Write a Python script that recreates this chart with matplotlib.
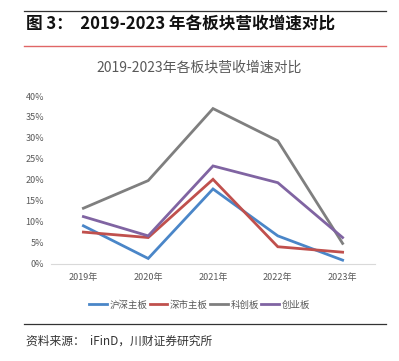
import matplotlib
matplotlib.use("Agg")
import matplotlib.pyplot as plt
from matplotlib.lines import Line2D
from matplotlib.ticker import FuncFormatter

plt.rcParams['font.family'] = ['Noto Sans CJK SC', 'DejaVu Sans']

years = ['2019年', '2020年', '2021年', '2022年', '2023年']
series_names = ['沪深主板', '深市主板', '科创板', '创业板']
hs_main = [9.0, 1.2, 17.8, 6.6, 0.8]
sz_main = [7.5, 6.2, 20.1, 4.0, 2.7]
star = [13.2, 19.8, 37.0, 29.3, 4.8]
gem = [11.2, 6.6, 23.3, 19.3, 6.2]
yticks = [0, 5, 10, 15, 20, 25, 30, 35, 40]

colors = ['#4a86c8', '#c0504d', '#7f7f7f', '#8064a2']

fig = plt.figure(figsize=(3.99, 3.61), dpi=100)
W, H = 399, 361

def fy(y):
    return 1 - y / H

# header rules and text
fig.add_artist(Line2D([24 / W, 386 / W], [fy(11), fy(11)], color='#333333', lw=0.9))
fig.text(26 / W, fy(25), '图 3：  2019-2023 年各板块营收增速对比', fontsize=12,
         fontweight='bold', color='#111111', va='center', ha='left')
fig.add_artist(Line2D([24 / W, 386 / W], [fy(46), fy(46)], color='#e06666', lw=1.0))
fig.text(0.5, fy(68), '2019-2023年各板块营收增速对比', fontsize=10, color='#595959',
         ha='center', va='center')

ax = fig.add_axes([51 / W, fy(263.5), (375 - 51) / W, (263.5 - 96) / H])
x = list(range(len(years)))
for vals, c, name in zip([hs_main, sz_main, star, gem], colors, series_names):
    ax.plot(x, vals, color=c, lw=2.0, label=name, solid_joinstyle='miter')

ax.set_xlim(-0.5, 4.5)
ax.set_ylim(0, 40)
ax.set_yticks(yticks)
ax.yaxis.set_major_formatter(FuncFormatter(lambda v, p: f'{int(v)}%'))
ax.set_xticks(x)
ax.set_xticklabels(years)
for s in ['top', 'right', 'left']:
    ax.spines[s].set_visible(False)
ax.spines['bottom'].set_color('#d9d9d9')
ax.tick_params(axis='both', length=0, labelsize=6.5, labelcolor='#595959')
ax.tick_params(axis='x', pad=7)
ax.tick_params(axis='y', pad=5)

leg = fig.legend(*ax.get_legend_handles_labels(), loc='center', bbox_to_anchor=(0.5, fy(305)),
                 ncol=4, frameon=False, fontsize=6.8, handlelength=1.9, handletextpad=0.25,
                 columnspacing=0.25)
for t in leg.get_texts():
    t.set_color('#595959')

fig.add_artist(Line2D([24 / W, 386 / W], [fy(324), fy(324)], color='#333333', lw=0.9))
fig.text(26 / W, fy(341), '资料来源：  iFinD，川财证券研究所', fontsize=8.5, style='italic',
         color='#333333', va='center', ha='left')

fig.savefig('out.png', dpi=100)
